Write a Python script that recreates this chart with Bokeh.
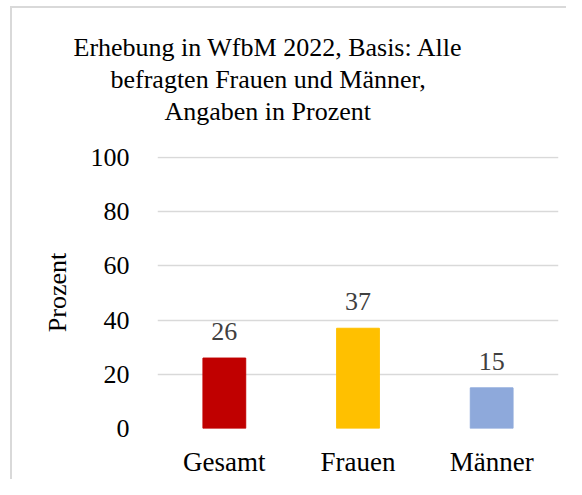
from bokeh.plotting import figure
from bokeh.models import ColumnDataSource, Range1d, LabelSet, Title, FixedTicker
from bokeh.embed import file_html
from bokeh.resources import INLINE

categories = ["Gesamt", "Frauen", "Männer"]
values = [26, 37, 15]
colors = ["#C00000", "#FFC000", "#8EA9DB"]
y_ticks = [0, 20, 40, 60, 80, 100]
title_lines = ["Erhebung in WfbM 2022, Basis: Alle",
               "befragten Frauen und Männer,",
               "Angaben in Prozent"]
y_label = "Prozent"

FONT = "Liberation Serif"

src = ColumnDataSource(dict(cat=categories, val=values, col=colors,
                            lab=[str(v) for v in values]))

p = figure(x_range=categories, y_range=Range1d(0, 100.4),
           width=566, height=479, output_backend="svg", toolbar_location=None,
           min_border_left=157, min_border_right=8, min_border_top=0,
           min_border_bottom=49, background_fill_color="white",
           border_fill_color=None)
p.title.visible = False
p.styles = {
    "background": ("linear-gradient(#d9d9d9,#d9d9d9) 10px 6px / 2px 100% no-repeat, "
                   "linear-gradient(#d9d9d9,#d9d9d9) 10px 6px / 100% 2px no-repeat, white"),
}
p.outline_line_color = None

p.vbar(x="cat", top="val", width=0.32, color="col", source=src)

labels = LabelSet(x="cat", y="val", text="lab", source=src, y_offset=18,
                  text_align="center", text_baseline="alphabetic",
                  text_font=FONT, text_font_size="26px", text_color="#404040")
p.add_layout(labels)

p.xgrid.grid_line_color = None
p.ygrid.grid_line_color = "#d9d9d9"
p.ygrid.grid_line_width = 1.5
p.yaxis.ticker = FixedTicker(ticks=y_ticks)

for ax in (p.xaxis, p.yaxis):
    ax.axis_line_color = None
    ax.major_tick_line_color = None
    ax.minor_tick_line_color = None
    ax.major_tick_out = 0
    ax.major_tick_in = 0
    ax.minor_tick_out = 0
    ax.minor_tick_in = 0
    ax.major_label_text_font = FONT
    ax.major_label_text_color = "#000000"

p.yaxis.major_label_text_font_size = "26px"
p.xaxis.major_label_text_font_size = "27px"
p.xaxis.major_label_standoff = 18
p.yaxis.major_label_standoff = 28
p.yaxis.axis_label = y_label
p.yaxis.axis_label_text_font = FONT
p.yaxis.axis_label_text_font_size = "26px"
p.yaxis.axis_label_text_font_style = "normal"
p.yaxis.axis_label_text_color = "#000000"
p.yaxis.axis_label_standoff = 16

# title lines stacked above the plot (innermost first), with spacers
p.add_layout(Title(text=" ", standoff=27, text_font_size="1px"), "above")
offsets = [-84, -47, 7]
for line, off in reversed(list(zip(title_lines, offsets))):
    p.add_layout(Title(text=line, align="left", offset=off, standoff=1,
                       text_font=FONT, text_font_size="26px",
                       text_font_style="normal", text_color="#000000",
                       text_line_height=1.0), "above")
p.add_layout(Title(text=" ", standoff=26.5, text_font_size="1px"), "above")

open("out.html", "w").write(file_html(p, INLINE))
